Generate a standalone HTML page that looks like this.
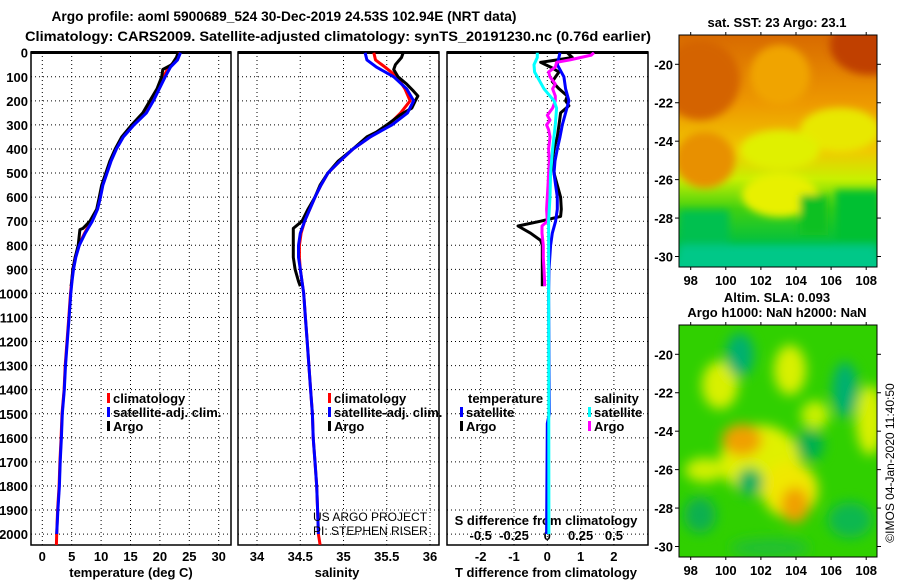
<!DOCTYPE html>
<html><head><meta charset="utf-8"><style>
html,body{margin:0;padding:0;background:#fff;}
svg{display:block;font-family:"Liberation Sans",sans-serif;}
.b{font-weight:bold;font-size:13px;}
</style></head><body>
<svg id="fig" width="900" height="580" viewBox="0 0 900 580" xmlns="http://www.w3.org/2000/svg">
<defs>
<clipPath id="c1"><rect x="31" y="52" width="200" height="493"/></clipPath>
<clipPath id="c2"><rect x="238" y="52" width="201" height="493"/></clipPath>
<clipPath id="c3"><rect x="447" y="52" width="201" height="493"/></clipPath>
<clipPath id="cm1"><rect x="679" y="35" width="198" height="232"/></clipPath>
<clipPath id="cm2"><rect x="679" y="325" width="198" height="232"/></clipPath>
<filter id="bl" x="-20%" y="-20%" width="140%" height="140%"><feGaussianBlur stdDeviation="4"/></filter>
<filter id="bl2" x="-50%" y="-50%" width="200%" height="200%"><feGaussianBlur stdDeviation="6"/></filter>
<linearGradient id="sst" x1="0" y1="0" x2="0" y2="1">
<stop offset="0" stop-color="#d86a00"/><stop offset="0.3" stop-color="#ee9a00"/>
<stop offset="0.5" stop-color="#f0c800"/><stop offset="0.62" stop-color="#c8f000"/>
<stop offset="0.75" stop-color="#40d010"/><stop offset="0.9" stop-color="#00c040"/>
<stop offset="1" stop-color="#00c890"/></linearGradient>
</defs>
<g class="b" font-size="14">
<text x="284" y="21" text-anchor="middle" font-size="14" textLength="465" lengthAdjust="spacingAndGlyphs">Argo profile: aoml 5900689_524 30-Dec-2019 24.53S 102.94E (NRT data)</text>
<text x="338" y="41" text-anchor="middle" font-size="14" textLength="626" lengthAdjust="spacingAndGlyphs">Climatology: CARS2009. Satellite-adjusted climatology: synTS_20191230.nc (0.76d earlier)</text>
</g>
<g id="axes"></g>
<g id="series"></g>
<g>
<g clip-path="url(#cm1)">
<rect x="679" y="35" width="198" height="232" fill="url(#sst)"/>
<g filter="url(#bl)">
<ellipse cx="700" cy="80" rx="40" ry="40" fill="#d46400"/>
<ellipse cx="870" cy="45" rx="40" ry="30" fill="#c04000"/>
<ellipse cx="780" cy="75" rx="30" ry="30" fill="#f0a400"/>
<ellipse cx="705" cy="160" rx="30" ry="28" fill="#e89000"/>
<ellipse cx="840" cy="130" rx="40" ry="22" fill="#e8e800"/>
<ellipse cx="780" cy="150" rx="40" ry="20" fill="#e0f000"/>
<ellipse cx="780" cy="195" rx="38" ry="22" fill="#e8f000"/>
<rect x="800" y="195" width="28" height="40" fill="#10c020"/>
<rect x="835" y="190" width="45" height="60" fill="#00c030"/>
<rect x="679" y="210" width="50" height="40" fill="#00c050"/>
<rect x="679" y="245" width="198" height="25" fill="#00c888"/>
</g>
</g>
<rect x="679" y="35" width="198" height="232" fill="none" stroke="#000" stroke-width="1"/>
</g>
<g>
<g clip-path="url(#cm2)">
<rect x="679" y="325" width="198" height="232" fill="#30d000"/>
<g filter="url(#bl2)">
<ellipse cx="760" cy="460" rx="40" ry="35" fill="#e0f000"/>
<ellipse cx="790" cy="490" rx="28" ry="28" fill="#f0e800"/>
<ellipse cx="705" cy="470" rx="20" ry="12" fill="#d0f000"/>
<ellipse cx="742" cy="440" rx="20" ry="16" fill="#f0a000"/>
<ellipse cx="795" cy="505" rx="14" ry="18" fill="#f0a000"/>
<ellipse cx="720" cy="385" rx="18" ry="24" fill="#d8f000"/>
<ellipse cx="790" cy="370" rx="16" ry="25" fill="#d8f000"/>
<ellipse cx="870" cy="420" rx="14" ry="35" fill="#d8f000"/>
<ellipse cx="815" cy="415" rx="14" ry="14" fill="#c8f000"/>
<ellipse cx="740" cy="355" rx="14" ry="22" fill="#00b070"/>
<ellipse cx="845" cy="390" rx="13" ry="28" fill="#00b070"/>
<ellipse cx="810" cy="445" rx="14" ry="16" fill="#00b050"/>
<ellipse cx="750" cy="482" rx="13" ry="14" fill="#00b060"/>
<ellipse cx="700" cy="515" rx="16" ry="18" fill="#10b050"/>
<ellipse cx="850" cy="520" rx="22" ry="18" fill="#10b850"/>
<ellipse cx="770" cy="548" rx="40" ry="10" fill="#20c030"/>
</g>
</g>
<rect x="679" y="325" width="198" height="232" fill="none" stroke="#000" stroke-width="1"/>
</g>
<g class="b">
<text x="777" y="27" text-anchor="middle">sat. SST: 23 Argo: 23.1</text>
<text x="777" y="302" text-anchor="middle">Altim. SLA: 0.093</text>
<text x="777" y="317" text-anchor="middle">Argo h1000: NaN h2000: NaN</text>
</g>
<text transform="translate(894,463) rotate(-90)" text-anchor="middle" font-size="12">©IMOS 04-Jan-2020 11:40:50</text>
<g font-size="12" clip-path="url(#c2)">
<text x="313" y="521">US ARGO PROJECT</text>
<text x="313" y="535">PI: STEPHEN RISER</text>
</g>
</svg>
<script>
// ---- data ----
const depthTicks = [0,100,200,300,400,500,600,700,800,900,1000,1100,1200,1300,1400,1500,1600,1700,1800,1900,2000];
const tempTicks = [0,5,10,15,20,25,30];
const salTicks = [34,34.5,35,35.5,36];
const tdTicks = [-2,-1,0,1,2];
const sdTicks = ["-0.5","-0.25","0","0.25","0.5"];
const sdTickVals = [-0.5,-0.25,0,0.25,0.5];
const lonTicks = [98,100,102,104,106,108];
const latTicks = [-20,-22,-24,-26,-28,-30];

const climDepth = [0,30,60,100,150,200,250,300,350,400,450,500,550,600,650,700,750,800,850,900,950,1000,1100,1200,1300,1400,1500,1600,1700,1800,1900,2000,2045];
const climT = [23.3,22.8,21.5,20.6,19.6,18.5,17.3,15.4,13.7,12.5,11.6,10.9,10.2,9.8,9.3,8.3,7.2,6.2,5.6,5.2,5.0,4.8,4.5,4.2,3.9,3.7,3.35,3.2,3.0,2.85,2.6,2.45,2.4];
const climS = [35.35,35.37,35.48,35.62,35.71,35.77,35.66,35.52,35.31,35.11,34.96,34.82,34.74,34.67,34.61,34.55,34.51,34.49,34.49,34.5,34.52,34.54,34.56,34.58,34.6,34.62,34.64,34.65,34.67,34.69,34.7,34.71,34.73];
const satDepth = [0,30,60,100,150,200,250,300,350,400,450,500,550,600,650,700,750,800,850,900,950,1000,1100,1200,1300,1400,1500,1600,1700,1800,1900,2000];
const satT = [23.5,23.0,21.8,20.9,19.9,18.9,17.7,15.6,13.8,12.6,11.7,11.0,10.3,9.9,9.4,8.5,7.3,6.3,5.7,5.3,5.05,4.85,4.55,4.25,3.95,3.75,3.4,3.25,3.05,2.9,2.65,2.45];
const satS = [35.25,35.27,35.38,35.58,35.73,35.81,35.74,35.56,35.31,35.11,34.96,34.82,34.74,34.67,34.61,34.55,34.5,34.48,34.48,34.5,34.52,34.54,34.56,34.58,34.6,34.62,34.64,34.65,34.67,34.69,34.7,34.71];
const argoTDepth = [0,20,50,70,100,150,200,250,300,350,400,450,500,550,600,650,700,730,735,800,850,900,950,970];
const argoT = [23.1,22.8,22.0,20.5,20.3,19.5,18.3,17.1,15.2,13.5,12.4,11.5,10.8,10.1,9.7,9.25,8.1,6.9,6.4,6.1,5.6,5.2,5.0,4.9];
const argoSDepth = [0,20,50,70,100,130,160,180,200,230,260,300,330,350,400,450,500,550,600,650,700,730,800,850,900,950,970];
const argoS = [35.69,35.67,35.6,35.58,35.63,35.73,35.81,35.86,35.83,35.79,35.65,35.5,35.38,35.27,35.11,34.94,34.82,34.73,34.67,34.59,34.52,34.42,34.42,34.42,34.44,34.48,34.5];
const satTdDepth = [0,50,100,150,200,250,300,350,400,450,500,550,600,650,700,750,800,900,1000,1500,1540,2000];
const satTd = [0.38,0.3,0.5,0.55,0.65,0.55,0.45,0.38,0.3,0.23,0.2,0.25,0.3,0.3,0.25,0.15,0.1,0.05,0.04,0.06,0,-0.02];
const argoTdDepth = [0,20,30,40,60,80,100,120,150,180,200,220,250,300,350,400,450,500,550,600,650,680,700,720,750,780,800,880,950,970];
const argoTd = [0.6,0.75,0.3,-0.2,0.1,0.35,0.25,0.15,0.35,0.6,0.55,0.65,0.4,0.35,0.3,0.2,0.15,0.2,0.3,0.4,0.42,0.4,-0.2,-0.88,-0.5,-0.2,-0.15,-0.15,-0.15,-0.15];
const satSdDepth = [0,20,50,80,100,150,200,230,300,400,500,600,700,800,2000];
const satSd = [-0.075,-0.075,-0.1,-0.095,-0.075,-0.025,0.05,0.07,0.06,0.04,0.025,0.02,0.01,0.01,0.012];
const argoSdDepth = [0,10,20,30,40,60,80,100,130,150,180,200,230,260,280,300,320,350,400,450,500,550,600,650,700,720,750,800,850,900,950,970];
const argoSd = [0.35,0.33,0.25,0.17,0.07,0.06,0.01,0.02,0.06,0.04,0.06,0.06,0.04,0,0.02,-0.005,0.01,0.02,0.01,0.015,0.01,0.005,0,-0.005,0,-0.04,-0.04,-0.03,-0.03,-0.025,-0.02,-0.02];

// ---- scales ----
const yD = d => 52.7 + 0.2407*d;
const xT = t => 42.3 + 5.88*t;
const xS = s => 257 + 86.5*(s-34);
const xTd = v => 547.3 + 33.3*v;
const xSd = v => 547.3 + 133.2*v;
const xLon = l => 690.7 + 17.55*(l-98);
const yLat1 = l => 64.3 + 19.22*(-20-l);
const yLat2 = l => 354.3 + 19.22*(-20-l);

const NS = "http://www.w3.org/2000/svg";
function mk(tag, parent){ const e=document.createElementNS(NS,tag); parent.appendChild(e); return e; }
const axes = document.getElementById('axes');
const series = document.getElementById('series');

const panels = [{x:31,w:200,name:'temperature-panel'},{x:238,w:201,name:'salinity-panel'},{x:447,w:201,name:'difference-panel'}];
panels.forEach((p,i)=>{
  const g = mk('g',axes);
  
  
  depthTicks.forEach(d=>{
    const l = mk('line',g);
    
    
    l.setAttribute('x1',p.x); l.setAttribute('x2',p.x+p.w);
    l.setAttribute('y1',yD(d)); l.setAttribute('y2',yD(d));
    l.setAttribute('stroke','#000'); l.setAttribute('stroke-dasharray','1 3');
  });
  let xs = i===0 ? tempTicks.map(xT) : i===1 ? salTicks.map(xS) : tdTicks.map(xTd);
  xs.forEach(x=>{
    const l = mk('line',g);
    
    
    l.setAttribute('x1',x); l.setAttribute('x2',x);
    l.setAttribute('y1',52); l.setAttribute('y2',545);
    l.setAttribute('stroke','#000'); l.setAttribute('stroke-dasharray','1 3');
  });
  const r = mk('rect',g);
  
  
  r.setAttribute('x',p.x); r.setAttribute('y',52); r.setAttribute('width',p.w); r.setAttribute('height',493);
  r.setAttribute('fill','none'); r.setAttribute('stroke','#000'); r.setAttribute('stroke-width','1.5');
  const t = mk('line',g);
  t.setAttribute('x1',p.x); t.setAttribute('x2',p.x+p.w); t.setAttribute('y1',52.5); t.setAttribute('y2',52.5);
  t.setAttribute('stroke','#000'); t.setAttribute('stroke-width','3');
});
function txt(parent, x, y, s, anchor, name, size){
  const t = mk('text',parent);
  
  
  t.setAttribute('x',x); t.setAttribute('y',y); t.setAttribute('class','b');
  if(anchor) t.setAttribute('text-anchor',anchor);
  if(size) t.setAttribute('font-size',size);
  t.textContent = s; return t;
}
depthTicks.forEach(d=>txt(axes,28,yD(d)+5,String(d),'end','depth-tick-label'));
tempTicks.forEach(v=>txt(axes,xT(v),561,String(v),'middle','temperature-tick-label'));
salTicks.forEach(v=>txt(axes,xS(v),561,String(v),'middle','salinity-tick-label'));
tdTicks.forEach(v=>txt(axes,xTd(v),561,String(v),'middle','t-diff-tick-label'));
sdTicks.forEach((s,i)=>txt(axes,xSd(sdTickVals[i]),540,s,'middle','s-diff-tick-label'));
txt(axes,131,577,'temperature (deg C)','middle','temperature-axis-title');
txt(axes,337,577,'salinity','middle','salinity-axis-title');
txt(axes,546,577,'T difference from climatology','middle','t-diff-axis-title');
txt(axes,546,525,'S difference from climatology','middle','s-diff-axis-title');
lonTicks.forEach(v=>{ txt(axes,xLon(v),285,String(v),'middle','sst-lon-tick-label'); txt(axes,xLon(v),575,String(v),'middle','sla-lon-tick-label'); });
latTicks.forEach(v=>{ txt(axes,673,yLat1(v)+5,String(v),'end','sst-lat-tick-label'); txt(axes,673,yLat2(v)+5,String(v),'end','sla-lat-tick-label'); });
// map ticks
[[35,267,yLat1],[325,557,yLat2]].forEach(m=>{
  lonTicks.forEach(v=>{ const l=mk('line',axes); l.setAttribute('x1',xLon(v)); l.setAttribute('x2',xLon(v)); l.setAttribute('y1',m[0]-3); l.setAttribute('y2',m[0]); l.setAttribute('stroke','#000');
    const l2=mk('line',axes); l2.setAttribute('x1',xLon(v)); l2.setAttribute('x2',xLon(v)); l2.setAttribute('y1',m[1]); l2.setAttribute('y2',m[1]+3); l2.setAttribute('stroke','#000'); });
  latTicks.forEach(v=>{ const l=mk('line',axes); l.setAttribute('x1',877); l.setAttribute('x2',881); l.setAttribute('y1',m[2](v)); l.setAttribute('y2',m[2](v)); l.setAttribute('stroke','#000');
    const l2=mk('line',axes); l2.setAttribute('x1',675); l2.setAttribute('x2',679); l2.setAttribute('y1',m[2](v)); l2.setAttribute('y2',m[2](v)); l2.setAttribute('stroke','#000'); });
});

function line(depths, vals, xf, color, clip, name){
  const pl = mk('polyline',series);
  
  
  pl.setAttribute('points', depths.map((d,i)=>xf(vals[i]).toFixed(1)+','+yD(d).toFixed(1)).join(' '));
  pl.setAttribute('fill','none'); pl.setAttribute('stroke',color); pl.setAttribute('stroke-width','3');
  pl.setAttribute('stroke-linejoin','round');
  pl.setAttribute('clip-path','url(#'+clip+')');
}
line(climDepth, climT, xT, '#ff0000', 'c1', 'temperature-climatology-line');
line(argoTDepth, argoT, xT, '#000000', 'c1', 'temperature-argo-line');
line(satDepth, satT, xT, '#0000ff', 'c1', 'temperature-satellite-line');
line(climDepth, climS, xS, '#ff0000', 'c2', 'salinity-climatology-line');
line(argoSDepth, argoS, xS, '#000000', 'c2', 'salinity-argo-line');
line(satDepth, satS, xS, '#0000ff', 'c2', 'salinity-satellite-line');
line(argoTdDepth, argoTd, xTd, '#000000', 'c3', 't-diff-argo-line');
line(satTdDepth, satTd, xTd, '#0000ff', 'c3', 't-diff-satellite-line');
line(argoSdDepth, argoSd, xSd, '#ff00ff', 'c3', 's-diff-argo-line');
line(satSdDepth, satSd, xSd, '#00ffff', 'c3', 's-diff-satellite-line');

// legends
function legend(x, y, color, label, name){
  const g = mk('g',axes);
  
  
  const r = mk('rect',g);
  r.setAttribute('x',x); r.setAttribute('y',y-10); r.setAttribute('width',3); r.setAttribute('height',10); r.setAttribute('fill',color);
  const t = mk('text',g); t.setAttribute('x',x+6); t.setAttribute('y',y); t.setAttribute('class','b'); t.textContent = label;
}
legend(107,403,'#ff0000','climatology','legend-entry-climatology');
legend(107,417,'#0000ff','satellite-adj. clim.','legend-entry-satellite');
legend(107,431,'#000000','Argo','legend-entry-argo');
legend(328,403,'#ff0000','climatology','legend-entry-climatology-2');
legend(328,417,'#0000ff','satellite-adj. clim.','legend-entry-satellite-2');
legend(328,431,'#000000','Argo','legend-entry-argo-2');
txt(axes,468,403,'temperature',null,'legend-title-temperature');
txt(axes,594,403,'salinity',null,'legend-title-salinity');
legend(460,417,'#0000ff','satellite','legend-entry-t-satellite');
legend(460,431,'#000000','Argo','legend-entry-t-argo');
legend(588,417,'#00ffff','satellite','legend-entry-s-satellite');
legend(588,431,'#ff00ff','Argo','legend-entry-s-argo');
</script>
</body></html>
